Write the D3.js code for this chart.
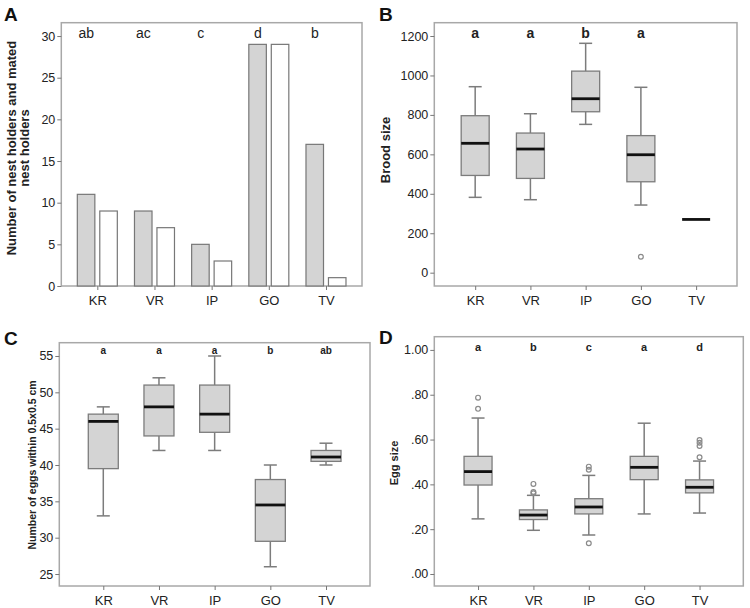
<!DOCTYPE html>
<html><head><meta charset="utf-8">
<script src="https://cdn.jsdelivr.net/npm/d3@7"></script>
<style>body{margin:0;background:#fff}svg{display:block;font-family:"Liberation Sans",Arial,sans-serif}</style>
</head><body><svg id="c" width="750" height="608"></svg>
<script>
const sites = ["KR","VR","IP","GO","TV"];
// Panel A
const nestHolders = [11,9,5,29,17];
const matedHolders = [9,7,3,29,1];
const lettersA = ["ab","ac","c","d","b"];
const ticksA = [0,5,10,15,20,25,30];
// Panel B: brood size [low, q1, median, q3, high]
const broodBox = [[382,493,656,796,943],[370,478,627,708,806],[752,816,882,1022,1163],[343,461,598,695,940],[270,270,270,270,270]];
const broodOut = [[],[],[],[81],[]];
const lettersB = ["a","a","b","a",""];
const ticksB = [0,200,400,600,800,1000,1200];
// Panel C: eggs within 0.5x0.5 cm
const eggsBox = [[33,39.5,46,47,48],[42,44,48,51,52],[42,44.5,47,51,55],[26,29.5,34.5,38,40],[40,40.5,41.1,42,43]];
const eggsOut = [[],[],[],[],[]];
const lettersC = ["a","a","a","b","ab"];
const ticksC = [25,30,35,40,45,50,55];
// Panel D: egg size
const eggSizeBox = [[0.246,0.397,0.457,0.525,0.696],[0.195,0.243,0.263,0.286,0.351],[0.174,0.268,0.299,0.336,0.44],[0.268,0.421,0.476,0.525,0.673],[0.272,0.362,0.387,0.42,0.504]];
const eggSizeOut = [[0.787,0.737],[0.402,0.366,0.36],[0.479,0.465,0.137],[],[0.598,0.586,0.571,0.521]];
const lettersD = ["a","b","c","a","d"];
const ticksD = [0,0.2,0.4,0.6,0.8,1.0];

const svg = d3.select("#c");
const FRAME = "#a8a8a8", BOXS = "#7c7c7c", FILL = "#d4d4d4", TXT = "#222";

function panel(o){
  const g = svg.append("g");
  const x = d3.scalePoint().domain(sites).range([o.x0,o.x1]).padding(o.pad);
  const y = d3.scaleLinear().domain(o.ydom).range([o.y1,o.y0]);
  g.append("rect").attr("x",o.x0).attr("y",o.y0).attr("width",o.x1-o.x0).attr("height",o.y1-o.y0)
    .attr("fill","none").attr("stroke",FRAME).attr("stroke-width",1.5);
  const ya = g.append("g").attr("transform",`translate(${o.x0},0)`)
    .call(d3.axisLeft(y).tickValues(o.ticks).tickSize(4).tickPadding(2).tickFormat(o.fmt));
  ya.select(".domain").remove();
  ya.selectAll("line").attr("stroke","#777");
  ya.selectAll("text").attr("font-size",12.5).attr("fill",TXT);
  const xa = g.append("g").attr("transform",`translate(0,${o.y1})`)
    .call(d3.axisBottom(x).tickSize(4).tickPadding(6));
  xa.select(".domain").remove();
  xa.selectAll("line").attr("stroke","#777");
  xa.selectAll("text").attr("font-size",13).attr("fill",TXT);
  g.append("text").attr("x",o.lx).attr("y",o.ly).attr("font-size",19).attr("font-weight","bold").attr("fill","#111").text(o.label);
  return {g,x,y};
}

function boxes(p, data, outs, bw, cw){
  const {g,x,y} = p;
  data.forEach((d,i)=>{
    const cx = x(sites[i]);
    const [lo,q1,md,q3,hi] = d;
    if (q3 > q1){
      g.append("line").attr("x1",cx).attr("x2",cx).attr("y1",y(hi)).attr("y2",y(q3)).attr("stroke",BOXS).attr("stroke-width",1.5);
      g.append("line").attr("x1",cx).attr("x2",cx).attr("y1",y(q1)).attr("y2",y(lo)).attr("stroke",BOXS).attr("stroke-width",1.5);
      g.append("line").attr("x1",cx-cw/2).attr("x2",cx+cw/2).attr("y1",y(hi)).attr("y2",y(hi)).attr("stroke",BOXS).attr("stroke-width",1.5);
      g.append("line").attr("x1",cx-cw/2).attr("x2",cx+cw/2).attr("y1",y(lo)).attr("y2",y(lo)).attr("stroke",BOXS).attr("stroke-width",1.5);
      g.append("rect").attr("x",cx-bw/2).attr("y",y(q3)).attr("width",bw).attr("height",y(q1)-y(q3))
        .attr("fill",FILL).attr("stroke",BOXS).attr("stroke-width",1.3);
    }
    g.append("line").attr("x1",cx-bw/2).attr("x2",cx+bw/2).attr("y1",y(md)).attr("y2",y(md)).attr("stroke","#111").attr("stroke-width",2.8);
    outs[i].forEach(v=>{
      g.append("circle").attr("cx",cx).attr("cy",y(v)).attr("r",2.4).attr("fill","none").attr("stroke","#8a8a8a").attr("stroke-width",1.2);
    });
  });
}

function letters(p, ls, yy, fs, bold, dx){
  ls.forEach((l,i)=>{
    p.g.append("text").attr("x",p.x(sites[i])+(dx||0)).attr("y",yy).attr("text-anchor","middle")
      .attr("font-size",fs).attr("font-weight",bold?"bold":"normal").attr("fill",TXT).text(l);
  });
}

function ytitle(lines, cx, cy, fs){
  const t = svg.append("text").attr("transform",`translate(${cx},${cy}) rotate(-90)`)
    .attr("text-anchor","middle").attr("font-size",fs).attr("font-weight","bold").attr("fill",TXT);
  lines.forEach((l,i)=>t.append("tspan").attr("x",0).attr("dy",i?fs*1.0:0).text(l));
}

// ---- Panel A
const pA = panel({x0:61.3,x1:362,y0:22.7,y1:286,pad:0.63,ydom:[0,31.6],ticks:ticksA,fmt:d3.format("d"),label:"A",lx:4,ly:21});
const inner = d3.scaleBand().domain(["n","m"]).range([-20,20]).paddingInner(0.22);
sites.forEach((s,i)=>{
  [["n",nestHolders[i],FILL],["m",matedHolders[i],"#fff"]].forEach(([k,v,f])=>{
    pA.g.append("rect").attr("x",pA.x(s)+inner(k)).attr("y",pA.y(v)).attr("width",inner.bandwidth())
      .attr("height",pA.y(0)-pA.y(v)).attr("fill",f).attr("stroke","#777").attr("stroke-width",1.2);
  });
});
letters(pA, lettersA, 38, 14, false, -11);
ytitle(["Number of nest holders and mated","nest holders"], 16, 148, 13);

// ---- Panel B
const pB = panel({x0:434.3,x1:737,y0:22.7,y1:286,pad:0.74,ydom:[-67.5,1267.5],ticks:ticksB,fmt:d3.format("d"),label:"B",lx:379,ly:21});
boxes(pB, broodBox, broodOut, 28, 13);
letters(pB, lettersB, 38, 14, true);
ytitle(["Brood size"], 390, 150, 13);

// ---- Panel C
const pC = panel({x0:59.3,x1:370,y0:342.7,y1:586,pad:0.79,ydom:[23.35,56.83],ticks:ticksC,fmt:d3.format("d"),label:"C",lx:4,ly:345});
boxes(pC, eggsBox, eggsOut, 30, 13);
letters(pC, lettersC, 354, 10, true);
ytitle(["Number of eggs within 0.5x0.5 cm"], 36, 465, 10.5);

// ---- Panel D
const pD = panel({x0:434.3,x1:743.3,y0:336.7,y1:586,pad:0.79,ydom:[-0.0536,1.059],ticks:ticksD,fmt:v=>d3.format(".2f")(v).replace(/^0/,""),label:"D",lx:379,ly:344});
boxes(pD, eggSizeBox, eggSizeOut, 28, 13);
letters(pD, lettersD, 351, 11, true);
ytitle(["Egg size"], 398, 463, 11);
</script></body></html>
